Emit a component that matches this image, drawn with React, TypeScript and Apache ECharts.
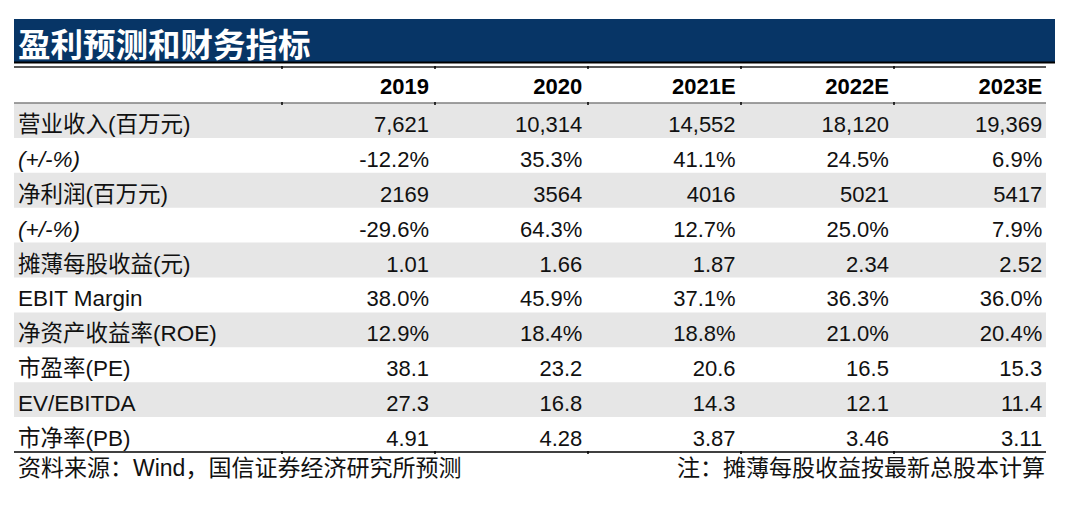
import React, { useEffect, useRef } from "react";
import * as echarts from "echarts";

const title = "盈利预测和财务指标";
const years = ["2019", "2020", "2021E", "2022E", "2023E"];
const rowLabels = [
  "营业收入(百万元)",
  "(+/-%)",
  "净利润(百万元)",
  "(+/-%)",
  "摊薄每股收益(元)",
  "EBIT Margin",
  "净资产收益率(ROE)",
  "市盈率(PE)",
  "EV/EBITDA",
  "市净率(PB)",
];
const revenue = ["7,621", "10,314", "14,552", "18,120", "19,369"];
const revenueGrowth = ["-12.2%", "35.3%", "41.1%", "24.5%", "6.9%"];
const netProfit = ["2169", "3564", "4016", "5021", "5417"];
const profitGrowth = ["-29.6%", "64.3%", "12.7%", "25.0%", "7.9%"];
const eps = ["1.01", "1.66", "1.87", "2.34", "2.52"];
const ebitMargin = ["38.0%", "45.9%", "37.1%", "36.3%", "36.0%"];
const roe = ["12.9%", "18.4%", "18.8%", "21.0%", "20.4%"];
const pe = ["38.1", "23.2", "20.6", "16.5", "15.3"];
const evEbitda = ["27.3", "16.8", "14.3", "12.1", "11.4"];
const pb = ["4.91", "4.28", "3.87", "3.46", "3.11"];
const sourceNote = "资料来源：Wind，国信证券经济研究所预测";
const epsNote = "注：摊薄每股收益按最新总股本计算";

const rowValues = [revenue, revenueGrowth, netProfit, profitGrowth, eps, ebitMargin, roe, pe, evEbitda, pb];

const FONT = "'Liberation Sans', Arial, 'Noto Sans CJK SC', sans-serif";

export default function App() {
  const ref = useRef<HTMLDivElement>(null);
  useEffect(() => {
    if (!ref.current) return;
    const chart = echarts.init(ref.current, undefined, { renderer: "svg" });
    const left = 14;
    const tableRight = 1046;
    const headerTop = 67;
    const headerBottom = 103;
    const rowH = 34.9;
    const colRight = years.map((_, i) => 429 + i * 153.3);
    const colBounds = [282, 435, 588, 741, 894];
    const els: any[] = [];

    els.push({ type: "rect", shape: { x: left, y: 19, width: 1041, height: 43 }, style: { fill: "#073566" } });
    els.push({
      type: "text", x: 18, y: 42,
      style: { text: title, fill: "#ffffff", font: "bold 32.5px 'Noto Sans CJK SC', sans-serif", verticalAlign: "middle" },
    });
    els.push({ type: "line", shape: { x1: left, y1: 62.5, x2: 1055, y2: 62.5 }, style: { stroke: "#000", lineWidth: 2 } });
    els.push({ type: "line", shape: { x1: left, y1: headerTop, x2: tableRight, y2: headerTop }, style: { stroke: "#222", lineWidth: 1.5 } });

    years.forEach((y, i) => {
      els.push({
        type: "text", x: colRight[i], y: headerTop + 19,
        style: { text: y, fill: "#000", font: `bold 22px ${FONT}`, align: "right", verticalAlign: "middle" },
      });
    });

    rowLabels.forEach((lab, r) => {
      const top = headerBottom + r * rowH;
      if (r % 2 === 0) {
        els.push({ type: "rect", shape: { x: left, y: top, width: tableRight - left, height: rowH }, style: { fill: "#e6e6e6" } });
      }
      const italic = lab.startsWith("(");
      els.push({
        type: "text", x: 18, y: top + rowH / 2 + 4,
        style: { text: lab, fill: "#111", font: `${italic ? "italic " : ""}22.5px ${FONT}`, verticalAlign: "middle" },
      });
      rowValues[r].forEach((v, c) => {
        els.push({
          type: "text", x: colRight[c], y: top + rowH / 2 + 4,
          style: { text: v, fill: "#111", font: `22px ${FONT}`, align: "right", verticalAlign: "middle" },
        });
      });
    });

    const bottom = headerBottom + rowLabels.length * rowH;
    els.push({ type: "line", shape: { x1: left, y1: headerBottom, x2: tableRight, y2: headerBottom }, style: { stroke: "#808080", lineWidth: 1.5 } });
    els.push({ type: "line", shape: { x1: left, y1: bottom, x2: tableRight, y2: bottom }, style: { stroke: "#000", lineWidth: 1.5 } });
    [headerTop, headerBottom, bottom].forEach((yy) => {
      colBounds.forEach((x) => {
        els.push({ type: "line", shape: { x1: x, y1: yy - 1, x2: x, y2: yy + 2 }, style: { stroke: "#000", lineWidth: 1.5 } });
      });
    });

    els.push({
      type: "text", x: 18, y: bottom + 16,
      style: { text: sourceNote, fill: "#111", font: `23px ${FONT}`, verticalAlign: "middle" },
    });
    els.push({
      type: "text", x: 1045, y: bottom + 16,
      style: { text: epsNote, fill: "#111", font: `23px ${FONT}`, align: "right", verticalAlign: "middle" },
    });

    chart.setOption({ animation: false, graphic: { elements: els }, series: [] });
    return () => chart.dispose();
  }, []);
  return (
    <div
      ref={ref}
      style={{ position: "fixed", left: 0, top: 0, width: 1080, height: 506, background: "#fff" }}
    />
  );
}
